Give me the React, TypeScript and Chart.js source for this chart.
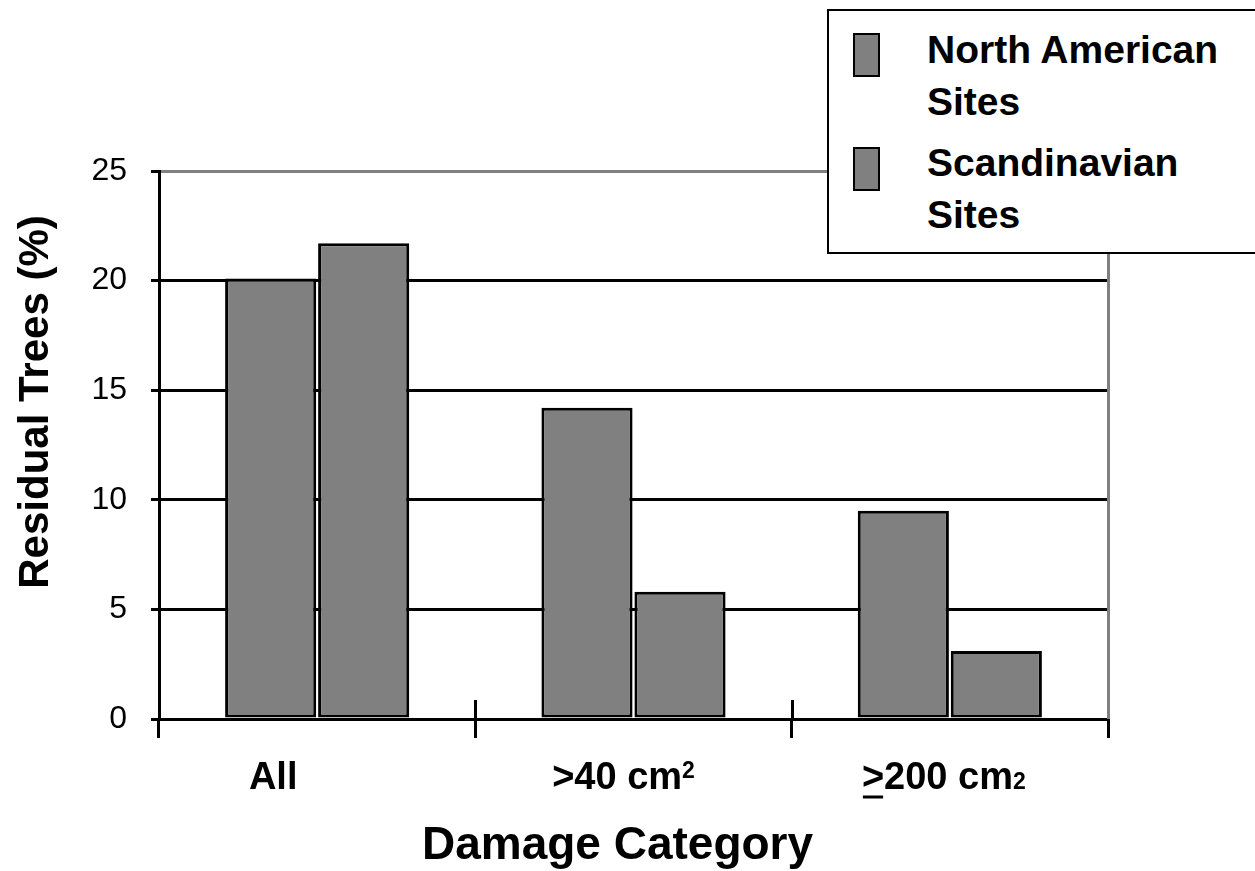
import React, { useEffect, useRef } from "react";
import { Chart, registerables } from "chart.js";

Chart.register(...registerables);

const categories = ["All", ">40 cm²", "≥200 cm₂"];
const seriesLabels = ["North American Sites", "Scandinavian Sites"];
const northAmerican = [20.1, 14.2, 9.5];
const scandinavian = [21.7, 5.8, 3.1];
const yTicks = [0, 5, 10, 15, 20, 25];
const xTitle = "Damage Category";
const yTitle = "Residual Trees (%)";

const FONT = '"Liberation Sans", Arial, sans-serif';
const BAR = "#808080";
const LABEL_SIZE = 38;
const LABEL_NUDGE = [-44, -10, -6];
const X_TITLE_NUDGE = -16;

type Part = { text: string; kind: "normal" | "sup" | "sub" | "ge" };

function splitLabel(label: string): Part[] {
  const parts: Part[] = [];
  let buf = "";
  const flush = () => {
    if (buf) parts.push({ text: buf, kind: "normal" });
    buf = "";
  };
  for (const ch of label) {
    if (ch === "²") {
      flush();
      parts.push({ text: "2", kind: "sup" });
    } else if (ch === "₂") {
      flush();
      parts.push({ text: "2", kind: "sub" });
    } else if (ch === "≥") {
      flush();
      parts.push({ text: ">", kind: "ge" });
    } else buf += ch;
  }
  flush();
  return parts;
}

const extrasPlugin = {
  id: "extras",
  afterDatasetsDraw(chart: any) {
    const { ctx, chartArea, scales } = chart;
    const xs = scales.x;
    ctx.save();
    ctx.strokeStyle = "#808080";
    ctx.lineWidth = 3;
    ctx.beginPath();
    ctx.moveTo(chartArea.right + 0.5, chartArea.top - 1);
    ctx.lineTo(chartArea.right + 0.5, chartArea.bottom);
    ctx.stroke();
    ctx.strokeStyle = "#000";
    for (let i = 1; i < categories.length; i++) {
      const x = Math.round((xs.getPixelForValue(i - 1) + xs.getPixelForValue(i)) / 2) + 0.5;
      ctx.beginPath();
      ctx.moveTo(x, chartArea.bottom - 19);
      ctx.lineTo(x, chartArea.bottom);
      ctx.stroke();
    }
    ctx.restore();
  },
  afterDraw(chart: any) {
    const { ctx, chartArea, scales } = chart;
    const xs = scales.x;
    // y axis title
    ctx.save();
    ctx.translate(36, 402);
    ctx.rotate(-Math.PI / 2);
    ctx.font = `bold 42px ${FONT}`;
    ctx.fillStyle = "#000";
    ctx.textAlign = "center";
    ctx.textBaseline = "middle";
    ctx.fillText(yTitle, 0, 0);
    ctx.restore();

    // x axis title
    ctx.save();
    ctx.font = `bold 46px ${FONT}`;
    ctx.fillStyle = "#000";
    ctx.textAlign = "center";
    ctx.textBaseline = "alphabetic";
    ctx.fillText(xTitle, (chartArea.left + chartArea.right) / 2 + X_TITLE_NUDGE, chartArea.bottom + 140);
    ctx.restore();

    // x category labels
    ctx.save();
    ctx.fillStyle = "#000";
    ctx.strokeStyle = "#000";
    ctx.textBaseline = "alphabetic";
    ctx.textAlign = "left";
    const baseline = chartArea.bottom + 70;
    const mainFont = `bold ${LABEL_SIZE}px ${FONT}`;
    const smallSize = Math.round(LABEL_SIZE * 0.6);
    const smallFont = `bold ${smallSize}px ${FONT}`;
    categories.forEach((label, i) => {
      const parts = splitLabel(label);
      const widths = parts.map((p) => {
        ctx.font = p.kind === "sup" || p.kind === "sub" ? smallFont : mainFont;
        return ctx.measureText(p.text).width;
      });
      const total = widths.reduce((a, b) => a + b, 0);
      let x = xs.getPixelForValue(i) + LABEL_NUDGE[i] - total / 2;
      parts.forEach((p, j) => {
        if (p.kind === "sup") {
          ctx.font = smallFont;
          ctx.fillText(p.text, x, baseline - (LABEL_SIZE - smallSize) * 0.716);
        } else if (p.kind === "sub") {
          ctx.font = smallFont;
          ctx.fillText(p.text, x, baseline);
        } else {
          ctx.font = mainFont;
          ctx.fillText(p.text, x, baseline);
          if (p.kind === "ge") {
            ctx.lineWidth = 3;
            ctx.beginPath();
            ctx.moveTo(x + 1, baseline + 8);
            ctx.lineTo(x + widths[j] - 1, baseline + 8);
            ctx.stroke();
          }
        }
        x += widths[j];
      });
    });
    ctx.restore();
  },
};

export default function App() {
  const ref = useRef<HTMLCanvasElement | null>(null);

  useEffect(() => {
    if (!ref.current) return;
    const barStyle = {
      backgroundColor: BAR,
      borderColor: "#000",
      borderWidth: 3,
      borderSkipped: false,
      barPercentage: 0.98,
      categoryPercentage: 0.588,
    };
    const chart = new Chart(ref.current, {
      type: "bar",
      data: {
        labels: categories,
        datasets: [
          { label: seriesLabels[0], data: northAmerican, ...barStyle },
          { label: seriesLabels[1], data: scandinavian, ...barStyle },
        ],
      },
      options: {
        animation: false,
        responsive: true,
        maintainAspectRatio: false,
        layout: { padding: { top: 171, right: 147, left: 0, bottom: 0 } },
        plugins: {
          legend: { display: false },
          tooltip: { enabled: false },
        },
        scales: {
          x: {
            type: "category",
            afterFit(scale: any) {
              scale.height = 152;
            },
            grid: {
              display: true,
              offset: true,
              drawOnChartArea: false,
              drawTicks: true,
              tickLength: 19,
              color: "#000",
              tickColor: "#000",
              lineWidth: 3,
              tickWidth: 3,
            },
            border: { display: true, color: "#000", width: 3 },
            ticks: { display: false },
            title: { display: false },
          },
          y: {
            min: 0,
            max: 25,
            afterFit(scale: any) {
              scale.width = 159;
            },
            afterBuildTicks(scale: any) {
              scale.ticks = yTicks.map((v) => ({ value: v }));
            },
            grid: {
              color: (c: any) => (c.tick && c.tick.value === 25 ? "#808080" : "#000"),
              tickColor: "#000",
              lineWidth: 3,
              tickWidth: 3,
              tickLength: 8,
              drawTicks: true,
            },
            border: { display: true, color: "#000", width: 3 },
            ticks: {
              color: "#000",
              padding: 24,
              font: { family: FONT, size: 32 },
            },
            title: { display: false },
          },
        },
      },
      plugins: [extrasPlugin],
    });
    return () => chart.destroy();
  }, []);

  return (
    <div
      style={{
        position: "absolute",
        left: 0,
        top: 0,
        width: 1255,
        height: 871,
        overflow: "hidden",
        background: "#fff",
      }}
    >
      <canvas ref={ref} style={{ display: "block" }} />
      <div
        style={{
          position: "absolute",
          left: 827,
          top: 9,
          width: 470,
          height: 245,
          boxSizing: "border-box",
          border: "2px solid #000",
          background: "#fff",
          fontFamily: FONT,
        }}
      >
        {seriesLabels.map((label, i) => (
          <React.Fragment key={label}>
            <div
              style={{
                position: "absolute",
                left: 24,
                top: 22 + i * 114,
                width: 27,
                height: 44,
                boxSizing: "border-box",
                border: "2px solid #000",
                background: BAR,
              }}
            />
            <div
              style={{
                position: "absolute",
                left: 98,
                top: 13 + i * 113,
                width: 320,
                fontSize: 39,
                fontWeight: "bold",
                lineHeight: "52px",
                color: "#000",
              }}
            >
              {label}
            </div>
          </React.Fragment>
        ))}
      </div>
    </div>
  );
}
